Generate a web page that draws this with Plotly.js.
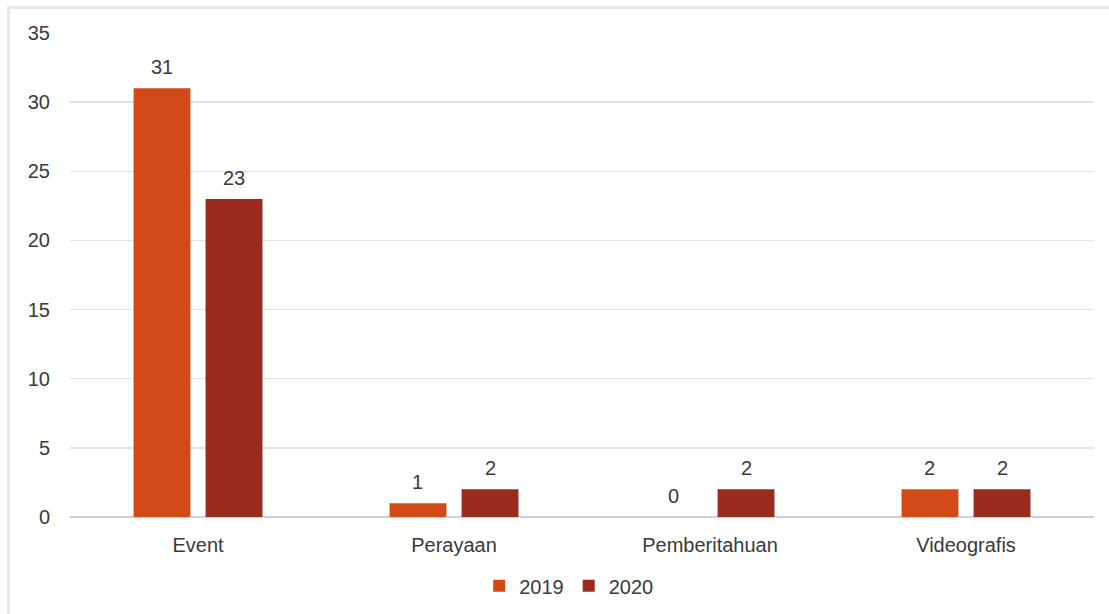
<!DOCTYPE html>
<html>
<head>
<meta charset="utf-8">
<script src="https://cdn.plot.ly/plotly-3.0.1.min.js"></script>
<style>
  html, body { margin: 0; padding: 0; background: #fff; }
  #wrap { position: absolute; left: 0; top: 0; width: 1109px; height: 614px; }
  #frame { position: absolute; left: 7px; top: 6px; width: 1102px; height: 608px; border-top: 3px solid #e8e8e8; border-left: 3px solid #e8e8e8; box-sizing: border-box; pointer-events: none; }
  #chart { position: absolute; left: 0; top: 0; width: 1109px; height: 614px; }
</style>
</head>
<body>
<div id="wrap">
  <div id="chart"></div>
  <div id="frame"></div>
</div>
<script>
const categories = ["Event", "Perayaan", "Pemberitahuan", "Videografis"];
const values2019 = [31, 1, 0, 2];
const values2020 = [23, 2, 2, 2];
const yTicks = [0, 5, 10, 15, 20, 25, 30, 35];

const font = { family: "Liberation Sans, Arial, sans-serif", size: 20, color: "#3a3a3a" };

const series = [
  { name: "2019", values: values2019, color: "#D24A17", offset: -0.141 },
  { name: "2020", values: values2020, color: "#9B2B1E", offset: 0.141 }
];

const traces = series.map(s => ({
  type: "bar", name: s.name, x: categories, y: s.values,
  marker: { color: s.color }
}));

const annotations = [];
series.forEach(s => {
  s.values.forEach((v, i) => {
    annotations.push({
      xref: "x", yref: "y", x: i + s.offset, y: v,
      text: String(v), showarrow: false,
      yanchor: "bottom", yshift: 8, font: font
    });
  });
});

const layout = {
  width: 1109, height: 614,
  margin: { l: 70, r: 15, t: 33, b: 97 },
  paper_bgcolor: "rgba(0,0,0,0)", plot_bgcolor: "#fff",
  font: font,
  barmode: "group",
  bargap: 0.4375,
  bargroupgap: 0.21,
  showlegend: true,
  annotations: annotations,
  legend: { orientation: "h", xref: "paper", x: 0.487, xanchor: "center",
            yref: "container", y: 0.046, yanchor: "middle",
            font: font, itemwidth: 30, traceorder: "normal" },
  xaxis: { type: "category", showgrid: false, zeroline: false, showline: false,
           ticks: "", tickfont: font, ticklabelstandoff: 14, automargin: false },
  yaxis: { range: [0, 35], tickvals: yTicks, ticktext: yTicks.map(String),
           showgrid: true, gridcolor: "#e2e2e2", gridwidth: 1.5,
           zeroline: true, zerolinecolor: "#d0d0d0", zerolinewidth: 1.5,
           showline: false, ticks: "", tickfont: font, ticklabelstandoff: 19, automargin: false }
};

Plotly.newPlot("chart", traces, layout, { displayModeBar: false, staticPlot: true });
</script>
</body>
</html>
